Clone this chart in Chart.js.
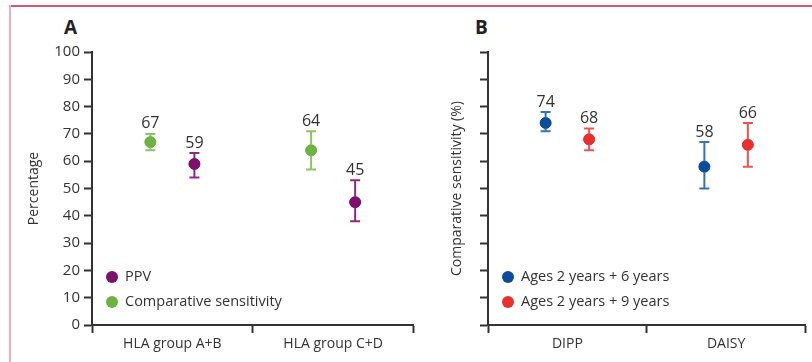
<!DOCTYPE html>
<html>
<head>
<meta charset="utf-8">
<script src="https://cdn.jsdelivr.net/npm/chart.js@4.4.1/dist/chart.umd.min.js"></script>
<style>
  body { margin: 0; background: #fff; }
  #wrap { position: relative; width: 812px; height: 362px; overflow: hidden; font-family: "Open Sans", sans-serif; }
  .frameTop { position: absolute; left: 9px; top: 5px; width: 803px; height: 2px; background: #d9507c; }
  .frameLeft { position: absolute; left: 9px; top: 5px; width: 2px; height: 357px; background: #f2aac4; }
  .panel { position: absolute; font-weight: 700; font-size: 19px; color: #222; }
  canvas { position: absolute; top: 0; }
</style>
</head>
<body>
<div id="wrap">
  <div class="frameTop"></div>
  <div class="frameLeft"></div>
  <div class="panel" style="left:64px;top:14px;">A</div>
  <div class="panel" style="left:475px;top:14px;">B</div>
  <canvas id="chartA" width="420" height="362" style="left:0"></canvas>
  <canvas id="chartB" width="392" height="362" style="left:420px"></canvas>
</div>
<script>
// panel A
const categoriesA = ["HLA group A+B", "HLA group C+D"];
const ppv = [59, 45];
const ppvLow = [54, 38];
const ppvHigh = [63, 53];
const compSens = [67, 64];
const compSensLow = [64, 57];
const compSensHigh = [70, 71];

// panel B
const categoriesB = ["DIPP", "DAISY"];
const ages6 = [74, 58];
const ages6Low = [71, 50];
const ages6High = [78, 67];
const ages9 = [68, 66];
const ages9Low = [64, 58];
const ages9High = [72, 74];

const yTicks = [0, 10, 20, 30, 40, 50, 60, 70, 80, 90, 100];

const FONT = "'Open Sans', sans-serif";
const INK = "#333";
const SHIFT = 0.137; // horizontal offset of a series inside its category

function series(label, values, low, high, color, errColor, shift) {
  return {
    label: label,
    data: values.map((v, i) => ({ x: i + 0.5 + shift, y: v })),
    low: low,
    high: high,
    backgroundColor: color,
    borderColor: color,
    errColor: errColor,
    pointRadius: 5.5,
    pointHoverRadius: 5.5,
    showLine: false
  };
}

const errorBars = {
  id: "errorBars",
  afterDatasetsDraw(chart) {
    const ctx = chart.ctx;
    const ys = chart.scales.y;
    chart.data.datasets.forEach((ds, di) => {
      const meta = chart.getDatasetMeta(di);
      meta.data.forEach((pt, i) => {
        const x = pt.x;
        const yl = ys.getPixelForValue(ds.low[i]);
        const yh = ys.getPixelForValue(ds.high[i]);
        ctx.save();
        ctx.strokeStyle = ds.errColor;
        ctx.lineWidth = 2;
        ctx.beginPath();
        ctx.moveTo(x, yl); ctx.lineTo(x, yh);
        ctx.moveTo(x - 5, yl); ctx.lineTo(x + 5, yl);
        ctx.moveTo(x - 5, yh); ctx.lineTo(x + 5, yh);
        ctx.stroke();
        ctx.fillStyle = ds.backgroundColor;
        ctx.beginPath();
        ctx.arc(x, pt.y, 5.5, 0, Math.PI * 2);
        ctx.fill();
        ctx.fillStyle = INK;
        ctx.font = "16px " + FONT;
        ctx.textAlign = "center";
        ctx.textBaseline = "bottom";
        ctx.fillText(String(ds.data[i].y), x, yh - 2);
        ctx.restore();
      });
    });
  }
};

const innerLegend = {
  id: "innerLegend",
  afterDraw(chart) {
    const ctx = chart.ctx;
    const area = chart.chartArea;
    const items = chart.options.plugins.innerLegend.order;
    items.forEach((di, k) => {
      const ds = chart.data.datasets[di];
      const y = area.bottom - 48 + k * 25;
      const x = area.left + 20;
      ctx.save();
      ctx.fillStyle = ds.backgroundColor;
      ctx.beginPath();
      ctx.arc(x, y, 6, 0, Math.PI * 2);
      ctx.fill();
      ctx.fillStyle = INK;
      ctx.font = "14.5px " + FONT;
      ctx.textAlign = "left";
      ctx.textBaseline = "middle";
      ctx.fillText(ds.label, x + 13, y);
      ctx.restore();
    });
  }
};

function makeChart(id, cats, datasets, opts) {
  return new Chart(document.getElementById(id), {
    type: "scatter",
    data: { datasets: datasets },
    options: {
      responsive: false,
      animation: false,
      layout: { padding: { left: 0, right: opts.padRight, top: 52, bottom: 0 } },
      plugins: {
        legend: { display: false },
        tooltip: { enabled: false },
        innerLegend: { order: opts.legendOrder }
      },
      elements: { point: { radius: 0 } },
      scales: {
        x: {
          type: "linear",
          min: 0,
          max: 2,
          afterBuildTicks: (s) => { s.ticks = [0, 0.5, 1, 1.5, 2].map(v => ({ value: v })); },
          afterFit: (s) => { s.height = 37; },
          ticks: {
            autoSkip: false,
            maxRotation: 0,
            padding: 3,
            color: INK,
            font: { family: FONT, size: 14 },
            callback: (v) => (v % 1 === 0.5 ? cats[Math.floor(v)] : "")
          },
          grid: {
            drawOnChartArea: false,
            tickLength: 8,
            tickWidth: 2,
            tickColor: (c) => (c.tick && c.tick.value % 1 === 0 ? INK : "rgba(0,0,0,0)")
          },
          border: { color: INK, width: 2 }
        },
        y: {
          min: 0,
          max: 100,
          afterBuildTicks: (s) => { s.ticks = yTicks.map(v => ({ value: v })); },
          afterFit: (s) => { s.width = opts.yWidth; },
          ticks: {
            padding: 4,
            color: INK,
            font: { family: FONT, size: 15 },
            callback: (v) => (opts.showYLabels ? v : "")
          },
          grid: { drawOnChartArea: false, tickLength: 8, tickWidth: 2, tickColor: INK },
          border: { color: INK, width: 2 },
          title: {
            display: true,
            text: opts.yTitle,
            color: INK,
            font: { family: FONT, size: 14 },
            padding: { top: opts.titlePad, bottom: 0 }
          }
        }
      }
    },
    plugins: [errorBars, innerLegend]
  });
}

makeChart("chartA", categoriesA, [
  series("PPV", ppv, ppvLow, ppvHigh, "#7f0f6c", "#8e2a7c", SHIFT),
  series("Comparative sensitivity", compSens, compSensLow, compSensHigh, "#6db33f", "#8cc563", -SHIFT)
], { yWidth: 92, padRight: 2, yTitle: "Percentage", titlePad: 26, showYLabels: true, legendOrder: [0, 1] });

makeChart("chartB", categoriesB, [
  series("Ages 2 years + 6 years", ages6, ages6Low, ages6High, "#0b4d9b", "#3174b8", -SHIFT),
  series("Ages 2 years + 9 years", ages9, ages9Low, ages9High, "#e8302e", "#ef5350", SHIFT)
], { yWidth: 68, padRight: 3, yTitle: "Comparative sensitivity (%)", titlePad: 29, showYLabels: false, legendOrder: [0, 1] });
</script>
</body>
</html>
